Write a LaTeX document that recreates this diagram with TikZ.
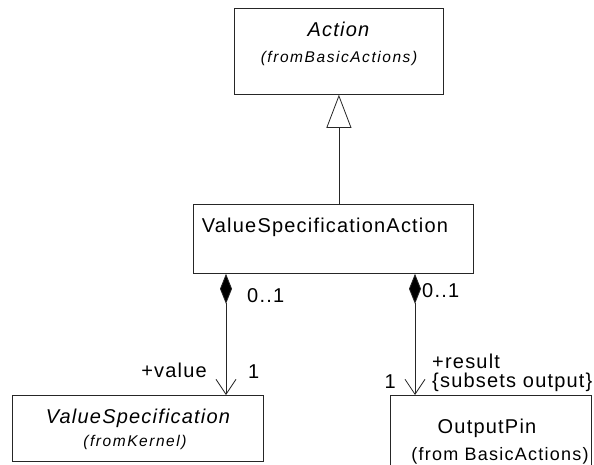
\documentclass[tikz,border=0pt]{standalone}
\usepackage{fontspec}
\setmainfont{Liberation Sans}
\newfontfamily\lsfont[LetterSpace=6]{Liberation Sans}
\newfontfamily\lssmall[LetterSpace=10]{Liberation Sans}
\newfontfamily\lsmid[LetterSpace=7]{Liberation Sans}
\usetikzlibrary{arrows.meta}
\begin{document}
\begin{tikzpicture}[x=1pt,y=-1pt,
  box/.style={draw=black!85, line width=0.8pt, inner sep=0pt, anchor=north west, fill=white},
  big/.style={font=\lsfont\fontsize{20}{24}\selectfont, inner sep=0pt},
  bigi/.style={font=\lsfont\itshape\fontsize{20}{24}\selectfont, inner sep=0pt},
  smalli/.style={font=\lssmall\itshape\fontsize{15.5}{18}\selectfont, inner sep=0pt},
  mid/.style={font=\lsmid\fontsize{18}{21}\selectfont, inner sep=0pt},
  conn/.style={draw=black!85, line width=0.8pt},
  comp/.style={conn, {Diamond[length=30pt,width=12pt,fill=black]}-{Straight Barb[length=15pt,width=20pt]}},
  genz/.style={conn, -{Triangle[open,length=33pt,width=25pt,fill=white]}}
]
\useasboundingbox (0,0) rectangle (594,464);
\clip (0,0) rectangle (594,464);
\fill[white] (0,0) rectangle (594,464);

% boxes
\node[box, minimum width=209pt, minimum height=86pt] (action) at (234,8) {};
\node[box, minimum width=280pt, minimum height=69pt] (vsa) at (193,204) {};
\node[box, minimum width=251pt, minimum height=66pt] (vs) at (12,395) {};
\node[box, minimum width=201pt, minimum height=80pt] (op) at (390,395) {};

% box texts
\node[bigi, anchor=base] (tAction) at (338.5,36) {Action};
\node[smalli, anchor=base] (tActionFrom) at (339,62) {(fromBasicActions)};
\node[big, anchor=base] (tVSA) at (325,232) {ValueSpecificationAction};
\node[bigi, anchor=base] (tVS) at (138,423) {ValueSpecification};
\node[smalli, anchor=base] (tVSFrom) at (135,446) {(fromKernel)};
\node[big, anchor=base] (tOP) at (487,433) {OutputPin};
\node[mid, anchor=base] (tOPFrom) at (500,460) {(from BasicActions)};

% connectors
\coordinate (lx) at (226,0);
\coordinate (rx) at (415,0);
\draw[genz] (vsa.north -| action.south) -- (action.south);
\draw[comp] (vsa.south -| lx) -- (vs.north -| lx);
\draw[comp] (vsa.south -| rx) -- (op.north -| rx);

% labels
\node[big, anchor=base west] (m1) at (247,302) {0..1};
\node[big, anchor=base west] (m2) at (422,297) {0..1};
\node[big, anchor=base east] (r1) at (207,377) {+value};
\node[big, anchor=base west] (n1) at (248,378) {1};
\node[big, anchor=base west] (r2) at (432,368.5) {+result};
\node[big, anchor=base west] (r3) at (432,387) {\{subsets output\}};
\node[big, anchor=base east] (n2) at (396,388) {1};
\end{tikzpicture}
\end{document}
